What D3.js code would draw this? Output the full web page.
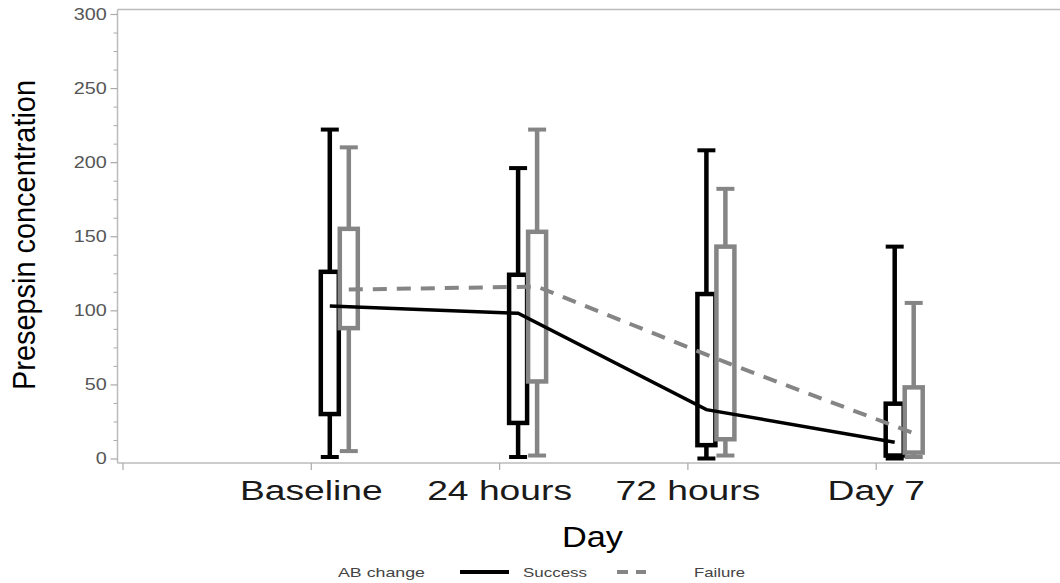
<!DOCTYPE html>
<html>
<head>
<meta charset="utf-8">
<script src="https://cdn.jsdelivr.net/npm/d3@7"></script>
<style>
  body { margin: 0; background: #fff; }
  text { font-family: "Liberation Sans", Arial, sans-serif; }
</style>
</head>
<body>
<div id="chart"></div>
<script>
// Presepsin box plots by day, grouped by AB change outcome

const xLabels = ["", "Baseline", "24 hours", "72 hours", "Day 7"];
const groups = ["Success", "Failure"];
const yTicks = [0, 50, 100, 150, 200, 250, 300];

// Success (black)
const successMin  = [1, 1, 0, 0];
const successQ1   = [30, 24, 9, 2];
const successQ3   = [126, 124, 111, 37];
const successMax  = [222, 196, 208, 143];
const successMean = [103, 98, 33, 11];

// Failure (gray)
const failureMin  = [5, 2, 2, 1];
const failureQ1   = [88, 52, 13, 4];
const failureQ3   = [155, 153, 143, 48];
const failureMax  = [210, 222, 182, 105];
const failureMean = [114, 116, 65, 17];

const width = 1060, height = 583;
const plotLeft = 117.5, plotTop = 9.5, plotBottom = 463;

const svg = d3.select("#chart").append("svg")
  .attr("width", width)
  .attr("height", height);

const x = d3.scaleLinear().domain([0, 5]).range([122.5, 1064]);
const y = d3.scaleLinear().domain([0, 300]).range([458.5, 14]);
const offset = d3.scalePoint().domain(groups).range([19, 38]);

const colors = { Success: "#000", Failure: "#858585" };

const series = [
  { name: "Success", min: successMin, q1: successQ1, q3: successQ3, max: successMax, mean: successMean },
  { name: "Failure", min: failureMin, q1: failureQ1, q3: failureQ3, max: failureMax, mean: failureMean }
];

// frame
svg.append("line").attr("x1", plotLeft).attr("x2", width).attr("y1", plotTop).attr("y2", plotTop)
  .attr("stroke", "#bbb").attr("stroke-width", 1.5);
svg.append("line").attr("x1", plotLeft).attr("x2", width).attr("y1", plotBottom).attr("y2", plotBottom)
  .attr("stroke", "#bbb").attr("stroke-width", 1.5);
svg.append("line").attr("x1", plotLeft).attr("x2", plotLeft).attr("y1", plotTop).attr("y2", plotBottom)
  .attr("stroke", "#bbb").attr("stroke-width", 1.5);

// y axis
const yAxis = d3.axisLeft(y).tickValues(yTicks).tickSize(7).tickPadding(2);
const gy = svg.append("g").attr("transform", `translate(${plotLeft},0)`).call(yAxis);
gy.select(".domain").remove();
gy.selectAll("line").attr("stroke", "#aaa").attr("stroke-width", 1.2);
gy.selectAll("text")
  .attr("font-size", 16.5)
  .attr("fill", "#555")
  .attr("transform", "scale(1.2,1)");

const minor = d3.range(0, 300, 12.5).filter(d => d % 50 != 0);
const gyMinor = svg.append("g").attr("transform", `translate(${plotLeft},0)`)
  .call(d3.axisLeft(y).tickValues(minor).tickSize(4).tickFormat(""));
gyMinor.select(".domain").remove();
gyMinor.selectAll("line").attr("stroke", "#aaa").attr("stroke-width", 1);

// x axis
const xAxis = d3.axisBottom(x).tickValues(d3.range(5)).tickSize(7).tickPadding(10)
  .tickFormat(i => xLabels[i]);
const gx = svg.append("g").attr("transform", `translate(0,${plotBottom})`).call(xAxis);
gx.select(".domain").remove();
gx.selectAll("line").attr("stroke", "#aaa").attr("stroke-width", 1.2);
gx.selectAll("text")
  .attr("font-size", 28)
  .attr("fill", "#1a1a1a")
  .attr("transform", "scale(1.33,1)");

// boxes
series.forEach(s => {
  const col = colors[s.name];
  const g = svg.append("g");
  s.min.forEach((v, i) => {
    const cx = x(i + 1) + offset(s.name);
    g.append("line").attr("x1", cx).attr("x2", cx)
      .attr("y1", y(s.min[i])).attr("y2", y(s.max[i]))
      .attr("stroke", col).attr("stroke-width", 4.5);
    [s.min[i], s.max[i]].forEach(c => {
      g.append("line").attr("x1", cx - 9).attr("x2", cx + 9)
        .attr("y1", y(c)).attr("y2", y(c))
        .attr("stroke", col).attr("stroke-width", 4);
    });
    g.append("rect")
      .attr("x", cx - 9).attr("width", 18)
      .attr("y", y(s.q3[i])).attr("height", y(s.q1[i]) - y(s.q3[i]))
      .attr("fill", "#fff").attr("stroke", col).attr("stroke-width", 4.5);
  });
});

// mean lines
const line = d3.line()
  .x(d => d.x)
  .y(d => y(d.v));

series.forEach(s => {
  const pts = s.mean.map((v, i) => ({ x: x(i + 1) + offset(s.name), v: v }));
  svg.append("path")
    .attr("d", line(pts))
    .attr("fill", "none")
    .attr("stroke", colors[s.name])
    .attr("stroke-width", s.name == "Success" ? 3.5 : 4)
    .attr("stroke-dasharray", s.name == "Success" ? null : "14,10");
});

// axis titles
svg.append("text")
  .attr("transform", "translate(35,235) scale(1.1,1) rotate(-90)")
  .attr("text-anchor", "middle")
  .attr("font-size", 29)
  .attr("textLength", 310)
  .attr("lengthAdjust", "spacingAndGlyphs")
  .attr("fill", "#000")
  .text("Presepsin concentration");

svg.append("text")
  .attr("x", 562).attr("y", 547)
  .attr("font-size", 29)
  .attr("textLength", 61)
  .attr("lengthAdjust", "spacingAndGlyphs")
  .attr("fill", "#000")
  .text("Day");

// legend
const leg = svg.append("g").attr("font-size", 13.5).attr("fill", "#444");
leg.append("text").attr("x", 338).attr("y", 577)
  .attr("textLength", 87).attr("lengthAdjust", "spacingAndGlyphs").text("AB change");
leg.append("line").attr("x1", 460).attr("x2", 509).attr("y1", 572).attr("y2", 572)
  .attr("stroke", colors.Success).attr("stroke-width", 4);
leg.append("text").attr("x", 523).attr("y", 577)
  .attr("textLength", 64).attr("lengthAdjust", "spacingAndGlyphs").text(groups[0]);
leg.append("line").attr("x1", 617).attr("x2", 646).attr("y1", 572).attr("y2", 572)
  .attr("stroke", colors.Failure).attr("stroke-width", 4).attr("stroke-dasharray", "11,8");
leg.append("text").attr("x", 694).attr("y", 577)
  .attr("textLength", 51).attr("lengthAdjust", "spacingAndGlyphs").text(groups[1]);
</script>
</body>
</html>
